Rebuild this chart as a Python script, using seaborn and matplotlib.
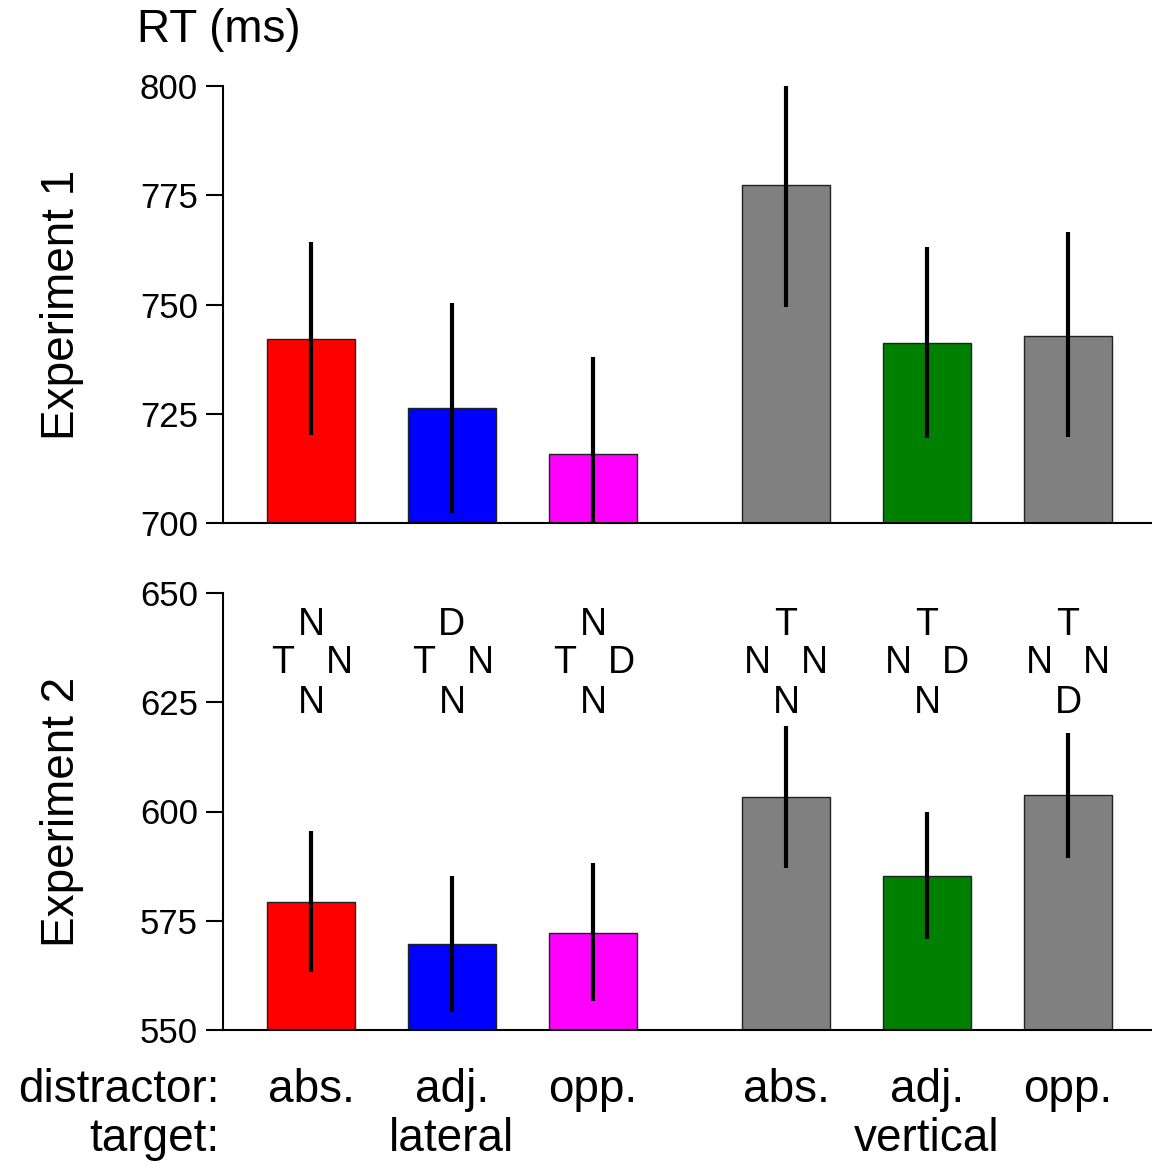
import numpy as np
import pandas as pd
import matplotlib
matplotlib.use("Agg")
import matplotlib.pyplot as plt
import seaborn as sns

# Data

positions = [0, 1, 2, 3.37, 4.37, 5.37]
conditions = ["lat_abs", "lat_adj", "lat_opp", "ver_abs", "ver_adj", "ver_opp"]
colors = ["#ff0000", "#0000ff", "#ff00ff", "#808080", "#008000", "#808080"]
distractor = ["abs.", "adj.", "opp.", "abs.", "adj.", "opp."]
target_labels = ["lateral", "vertical"]
target_pos = [1, 4.37]

exp1_rt = [742.0, 726.3, 715.8, 777.3, 741.2, 742.8]
exp1_lo = [720.1, 702.3, 694.0, 749.4, 719.5, 719.7]
exp1_hi = [764.3, 750.3, 738.0, 800.2, 763.2, 766.6]

exp2_rt = [579.3, 569.7, 572.2, 603.3, 585.2, 603.8]
exp2_lo = [563.3, 554.1, 556.6, 587.1, 570.9, 589.4]
exp2_hi = [595.5, 585.2, 588.2, 619.6, 600.0, 618.0]

# display letters (top / left / right / bottom)
top_letter = ["N", "D", "N", "T", "T", "T"]
left_letter = ["T", "T", "T", "N", "N", "N"]
right_letter = ["N", "N", "D", "N", "D", "N"]
bottom_letter = ["N", "N", "N", "N", "N", "D"]

# Style

sns.set_style("ticks")
plt.rcParams["font.family"] = ["Liberation Sans", "DejaVu Sans"]
for k in ["text.color", "axes.edgecolor", "axes.labelcolor", "xtick.color", "ytick.color"]:
    plt.rcParams[k] = "black"

BIG = 33
TICK = 25
W, H = 1152, 1164


def panel(ax, rt, lo, hi, ylim, label):
    df = pd.DataFrame({"pos": positions, "rt": rt, "cond": conditions})
    sns.barplot(
        data=df,
        x="pos",
        y="rt",
        hue="cond",
        palette=dict(zip(conditions, colors)),
        saturation=1,
        native_scale=True,
        dodge=False,
        width=0.625,
        errorbar=None,
        legend=False,
        edgecolor="#222222",
        linewidth=1,
        ax=ax,
    )
    ax.vlines(positions, lo, hi, color="black", lw=3, zorder=5)
    ax.set_ylim(*ylim)
    ax.set_xlim(-0.624, 5.966)
    ax.set_yticks(np.arange(ylim[0], ylim[1] + 1, 25))
    ax.set_xticks([])
    ax.set_xlabel("")
    ax.set_ylabel(label, fontsize=BIG)
    ax.yaxis.set_label_coords(-0.15, 0.5)
    ax.tick_params(axis="y", labelsize=TICK, length=12, width=1.5, pad=6)
    sns.despine(ax=ax)
    for s in ["left", "bottom"]:
        ax.spines[s].set_linewidth(1.5)


fig = plt.figure(figsize=(W / 100, H / 100), dpi=100)
ax1 = fig.add_axes([223 / W, 1 - 523 / H, 929 / W, 437 / H])
ax2 = fig.add_axes([223 / W, 1 - 1030 / H, 929 / W, 437 / H])

panel(ax1, exp1_rt, exp1_lo, exp1_hi, (700, 800), "Experiment 1")
panel(ax2, exp2_rt, exp2_lo, exp2_hi, (550, 650), "Experiment 2")

# letter displays above the bars
for i, x in enumerate(positions):
    kw = dict(ha="center", va="baseline", fontsize=27)
    ax2.text(x, 640.4, top_letter[i], **kw)
    ax2.text(x - 0.2, 631.6, left_letter[i], **kw)
    ax2.text(x + 0.2, 631.6, right_letter[i], **kw)
    ax2.text(x, 622.6, bottom_letter[i], **kw)

# condition labels under the axis
for x, d in zip(positions, distractor):
    ax2.text(x, 533.5, d, ha="center", va="baseline", fontsize=BIG, clip_on=False)
for x, t in zip(target_pos, target_labels):
    ax2.text(x, 522.3, t, ha="center", va="baseline", fontsize=BIG, clip_on=False)

fig.text(220 / W, 1 - 1102 / H, "distractor:", ha="right", va="baseline", fontsize=BIG)
fig.text(220 / W, 1 - 1151 / H, "target:", ha="right", va="baseline", fontsize=BIG)
fig.text(137 / W, 1 - 42 / H, "RT (ms)", ha="left", va="baseline", fontsize=BIG)

fig.savefig("out.png", dpi=100)
